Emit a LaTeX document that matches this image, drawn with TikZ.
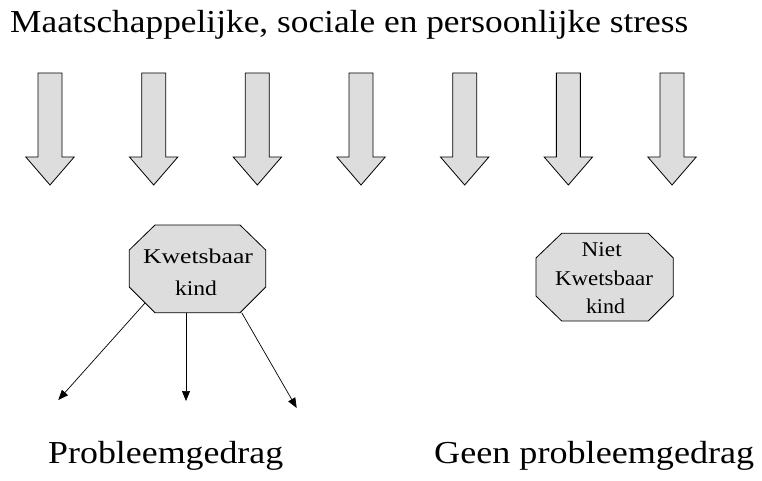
\documentclass[tikz,border=0pt]{standalone}
\usepackage{fontspec}
\setmainfont{Liberation Serif}
\usetikzlibrary{arrows.meta}
\definecolor{shapegray}{HTML}{DDDDDD}
\newcommand\fitw[2]{\resizebox{#1}{\height}{#2}}
\begin{document}
\begin{tikzpicture}[x=1pt,y=-1pt,
  bigtext/.style={inner sep=0pt,font=\fontsize{32}{38}\selectfont},
  octtext/.style={inner sep=0pt,anchor=base,font=\fontsize{21}{25}\selectfont},
  downarrow/.style={draw=black,fill=shapegray,line width=0.8pt,line join=miter},
  octshape/.style={draw=black,fill=shapegray,line width=0.8pt},
  conn/.style={draw=black,line width=0.7pt,-{Triangle[length=10pt,width=8pt]}}]
\useasboundingbox (0,0) rectangle (762,481);
% title
\node[bigtext,anchor=base west] (title) at (10,32.5) {\fitw{678pt}{Maatschappelijke, sociale en persoonlijke stress}};
% stress arrows
\foreach \i in {0,...,6}{
  \pgfmathsetmacro\cx{50+103.67*\i}
  \draw[downarrow] (\cx-12,73) -- (\cx+12,73) -- (\cx+12,157) -- (\cx+24.2,157)
     -- (\cx,185) -- (\cx-24.2,157) -- (\cx-12,157) -- cycle;
}
% octagon 1
\draw[octshape] (129.3,250) -- (155,225) -- (240,225) -- (265.7,250) -- (265.7,287)
   -- (240,312.7) -- (155,312.7) -- (129.3,287) -- cycle;
\node[octtext] (k1a) at (198,263.3) {\fitw{110pt}{Kwetsbaar}};
\node[octtext] (k1b) at (196,295) {\fitw{42pt}{kind}};
% octagon 2
\draw[octshape] (536,258) -- (561.7,233.3) -- (648.3,233.3) -- (673.3,258) -- (673.3,296)
   -- (648.3,321) -- (561.7,321) -- (536,296) -- cycle;
\node[octtext] (k2a) at (601.7,256) {\fitw{40pt}{Niet}};
\node[octtext] (k2b) at (604,285) {\fitw{98pt}{Kwetsbaar}};
\node[octtext] (k2c) at (605.5,313) {\fitw{39pt}{kind}};
% connectors
\coordinate (s1) at (145,303);
\coordinate (s2) at (186,312.7);
\coordinate (s3) at (241.7,312.7);
\coordinate (e1) at (58.3,400);
\coordinate (e2) at (186,401);
\coordinate (e3) at (296.7,408);
\draw[conn] (s1) -- (e1);
\draw[conn] (s2) -- (e2);
\draw[conn] (s3) -- (e3);
% bottom labels
\node[bigtext,anchor=base west] (prob) at (48,463.3) {\fitw{235pt}{Probleemgedrag}};
\node[bigtext,anchor=base west] (geen) at (434,463.3) {\fitw{320pt}{Geen probleemgedrag}};
\end{tikzpicture}
\end{document}
